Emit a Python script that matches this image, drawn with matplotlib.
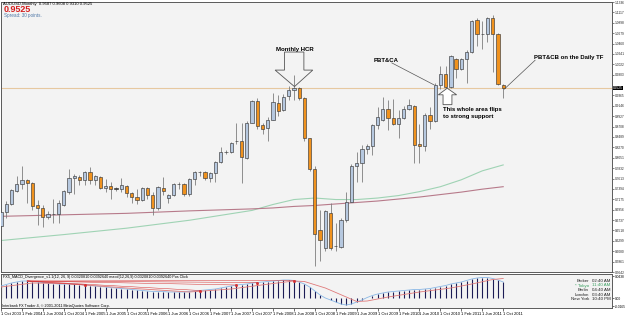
import numpy as np
import matplotlib.pyplot as plt
from matplotlib.patches import Polygon
import matplotlib.transforms as mtransforms

plt.rcParams['font.family'] = ['Liberation Sans', 'DejaVu Sans']

# AUDUSD monthly candles, Oct 2003 .. Oct 2011
opens = [0.6602, 0.6900, 0.7073, 0.7352, 0.7489, 0.7587, 0.7525, 0.7052, 0.6998, 0.6795,
         0.6864, 0.6864, 0.7052, 0.7331, 0.7623, 0.7643, 0.7587, 0.7748, 0.7573, 0.7643,
         0.7414, 0.7448, 0.7400, 0.7385, 0.7456, 0.7310, 0.7227, 0.7156, 0.7421, 0.7275,
         0.6983, 0.7421, 0.7212, 0.7260, 0.7504, 0.7489, 0.7281, 0.7608, 0.7748, 0.7748,
         0.7623, 0.7733, 0.7956, 0.8164, 0.8164, 0.8406, 0.8406, 0.8039, 0.8789, 0.9239,
         0.8748, 0.8685, 0.8858, 0.9206, 0.9052, 0.9358, 0.9483, 0.9518, 0.9310, 0.8462,
         0.7816, 0.6531, 0.6150, 0.6879, 0.6185, 0.6164, 0.6739, 0.7123, 0.7885, 0.7931,
         0.8233, 0.8302, 0.8733, 0.8843, 0.9081, 0.8893, 0.8768, 0.8893, 0.9081, 0.9150,
         0.8337, 0.8302, 0.8962, 0.8823, 0.9581, 0.9816, 0.9539, 1.0143, 0.9914, 1.0143,
         1.0281, 1.0956, 1.0664, 1.0664, 1.0998, 1.0664, 0.9587]
highs = [0.6983, 0.7129, 0.7400, 0.7677, 0.7885, 0.7608, 0.7546, 0.7156, 0.7052, 0.6920,
         0.7191, 0.7156, 0.7379, 0.7816, 0.7712, 0.7681, 0.7781, 0.7852, 0.7691, 0.7677,
         0.7608, 0.7539, 0.7441, 0.7623, 0.7468, 0.7331, 0.7400, 0.7435, 0.7435, 0.7331,
         0.7452, 0.7643, 0.7296, 0.7525, 0.7539, 0.7514, 0.7623, 0.7781, 0.7781, 0.7781,
         0.7748, 0.7989, 0.8268, 0.8212, 0.8385, 0.8775, 0.8789, 0.8816, 0.9275, 0.9310,
         0.8789, 0.8914, 0.9414, 0.9379, 0.9400, 0.9573, 0.9796, 0.9552, 0.9343, 0.8477,
         0.7885, 0.6948, 0.6948, 0.7087, 0.6671, 0.6775, 0.7331, 0.7920, 0.8164, 0.8316,
         0.8337, 0.8754, 0.9123, 0.9331, 0.9275, 0.9289, 0.9066, 0.9135, 0.9289, 0.9171,
         0.8754, 0.8998, 0.9123, 0.9623, 0.9983, 0.9983, 1.0212, 1.0164, 1.0164, 1.0316,
         1.0956, 1.0998, 1.0927, 1.1025, 1.1066, 1.0677, 0.9608]
lows = [0.6566, 0.6775, 0.7046, 0.7337, 0.7400, 0.7087, 0.6948, 0.6629, 0.6587, 0.6754,
        0.6671, 0.6671, 0.7035, 0.7296, 0.7296, 0.7483, 0.7468, 0.7504, 0.7468, 0.7385,
        0.7331, 0.7191, 0.7358, 0.7331, 0.7227, 0.7087, 0.7066, 0.7129, 0.7191, 0.6843,
        0.6948, 0.7260, 0.7087, 0.7248, 0.7400, 0.7254, 0.7248, 0.7468, 0.7677, 0.7573,
        0.7539, 0.7539, 0.7941, 0.8129, 0.8150, 0.8337, 0.7525, 0.8025, 0.8775, 0.8650,
        0.8546, 0.8406, 0.8843, 0.8927, 0.9031, 0.9275, 0.9275, 0.9275, 0.8406, 0.7781,
        0.5775, 0.5873, 0.6081, 0.6114, 0.6081, 0.6150, 0.6706, 0.7108, 0.7539, 0.7546,
        0.8129, 0.8108, 0.8650, 0.8823, 0.8635, 0.8733, 0.8477, 0.8879, 0.9066, 0.7941,
        0.7941, 0.8198, 0.8650, 0.8810, 0.9498, 0.9518, 0.9518, 0.9727, 0.9900, 0.9635,
        1.0260, 1.0400, 1.0352, 1.0489, 0.9864, 0.9587, 0.9310]
closes = [0.6914, 0.7073, 0.7364, 0.7489, 0.7587, 0.7518, 0.7031, 0.6983, 0.6810, 0.6858,
          0.6864, 0.7102, 0.7343, 0.7623, 0.7677, 0.7587, 0.7748, 0.7573, 0.7677, 0.7414,
          0.7448, 0.7400, 0.7400, 0.7468, 0.7316, 0.7227, 0.7156, 0.7421, 0.7260, 0.6983,
          0.7435, 0.7352, 0.7275, 0.7504, 0.7504, 0.7285, 0.7608, 0.7748, 0.7748, 0.7623,
          0.7733, 0.7956, 0.8177, 0.8164, 0.8358, 0.8406, 0.8060, 0.8789, 0.9239, 0.8718,
          0.8664, 0.8858, 0.9227, 0.9031, 0.9343, 0.9483, 0.9518, 0.9310, 0.8462, 0.7816,
          0.6441, 0.6323, 0.6935, 0.6150, 0.6185, 0.6739, 0.7123, 0.7885, 0.7941, 0.8233,
          0.8302, 0.8733, 0.8914, 0.9081, 0.8893, 0.8768, 0.8893, 0.9081, 0.9164, 0.8323,
          0.8302, 0.8962, 0.8823, 0.9581, 0.9816, 0.9539, 1.0191, 0.9914, 1.0143, 1.0281,
          1.0941, 1.0664, 1.0664, 1.0998, 1.0664, 0.9608, 0.9525]

# two moving averages, read at a few candles
ma_idx = [0, 12, 24, 36, 48, 52, 56, 60, 64, 68, 72, 76, 80, 84, 88, 92, 96]
ma_green = [0.6306, 0.6431, 0.6566, 0.6733, 0.6941, 0.7066, 0.7170, 0.7202, 0.7170, 0.7170,
            0.7202, 0.7254, 0.7337, 0.7441, 0.7587, 0.7775, 0.7900]
ma_red = [0.6816, 0.6848, 0.6879, 0.6931, 0.6973, 0.6993, 0.7025, 0.7045, 0.7077, 0.7108,
          0.7139, 0.7181, 0.7223, 0.7275, 0.7327, 0.7389, 0.7441]

# MACD histogram, one value per candle
macd = [0.024, 0.027, 0.030, 0.032, 0.034, 0.034, 0.033, 0.032, 0.031, 0.030,
        0.029, 0.028, 0.028, 0.028, 0.028, 0.027, 0.026, 0.025, 0.024, 0.023,
        0.022, 0.021, 0.020, 0.019, 0.018, 0.017, 0.016, 0.015, 0.014, 0.013,
        0.013, 0.013, 0.012, 0.012, 0.012, 0.012, 0.013, 0.014, 0.015, 0.016,
        0.017, 0.018, 0.020, 0.022, 0.024, 0.026, 0.027, 0.028, 0.030, 0.031,
        0.032, 0.033, 0.034, 0.035, 0.036, 0.036, 0.035, 0.032, 0.028, 0.022,
        0.014, 0.006, 0.000, -0.004, -0.008, -0.012, -0.014, -0.012, -0.008, -0.004,
        0.001, 0.005, 0.008, 0.010, 0.012, 0.013, 0.014, 0.015, 0.016, 0.017,
        0.017, 0.018, 0.019, 0.021, 0.023, 0.025, 0.028, 0.030, 0.032, 0.035,
        0.038, 0.040, 0.041, 0.041, 0.039, 0.036, 0.032]
sig_idx = [0, 6, 12, 24, 36, 44, 52, 56, 58, 62, 66, 68, 70, 74, 80, 86, 90, 94, 96]
sig_val = [0.022, 0.030, 0.029, 0.020, 0.012, 0.018, 0.029, 0.034, 0.033, 0.020,
           0.002, -0.007, -0.006, 0.002, 0.012, 0.020, 0.028, 0.037, 0.039]
div_from = 5
div_to = [16, 38, 45, 49, 56]

date_labels = ['1 Oct 2003', '1 Feb 2004', '1 Jun 2004', '1 Oct 2004', '1 Feb 2005',
               '1 Jun 2005', '1 Oct 2005', '1 Feb 2006', '1 Jun 2006', '1 Oct 2006',
               '1 Feb 2007', '1 Jun 2007', '1 Oct 2007', '1 Feb 2008', '1 Jun 2008',
               '1 Oct 2008', '1 Feb 2009', '1 Jun 2009', '1 Oct 2009', '1 Feb 2010',
               '1 Jun 2010', '1 Oct 2010', '1 Feb 2011', '1 Jun 2011', '1 Oct 2011']
bid = 0.9525
price_ticks = [round(1.1336 - k * 0.0219, 4) for k in range(27)]
price_ticks = [t for t in price_ticks if abs(t - bid) > 0.008]

clock_names = ['Broker', '* Tokyo', 'Berlin', 'London', 'New York']
clock_times = ['02:40 AM', '11:40 AM', '04:40 AM', '03:40 AM', '10:40 PM']

BG = '#f3f3f3'
UP = '#b6c8df'
DOWN = '#f0921e'
W, H = 625, 315


def px(x, y):
    return x / W, 1 - y / H


fig = plt.figure(figsize=(6.25, 3.15), dpi=100, facecolor='white')
ax = fig.add_axes([1 / W, (H - 272) / H, 611 / W, 270 / H], facecolor=BG)
mx = fig.add_axes([1 / W, (H - 308) / H, 611 / W, 34 / H], facecolor=BG)

idx = np.arange(len(opens))
o = np.array(opens); c = np.array(closes)
hi = np.array(highs); lo = np.array(lows)

# candles
ax.vlines(idx, lo, hi, color='#7d7d7d', lw=0.6, zorder=2)
colors = np.where(c > o, UP, np.where(c < o, DOWN, '#222222'))
body = np.where(np.abs(c - o) < 1e-6, 0.0004, c - o)
ax.bar(idx, body, bottom=o, width=0.62, color=colors, edgecolor='#3a3a3a',
       linewidth=0.45, zorder=3)

ax.plot(ma_idx, ma_green, color='#9fd3b4', lw=0.8, zorder=1)
ax.plot(ma_idx, ma_red, color='#b77a8a', lw=0.8, zorder=1)
ax.axhline(bid, color='#e6c8a0', lw=0.8, zorder=1)

ax.set_xlim(0, 116.8)
ax.set_ylim(0.5691, 1.1316)
ax.yaxis.tick_right()
ax.set_yticks(price_ticks)
ax.set_yticklabels([f'{t:.4f}' for t in price_ticks])
ax.tick_params(axis='y', labelsize=2.3, length=1.5, width=0.4, pad=0.5, colors='#222222')
ax.set_xticks([])
for s in ax.spines.values():
    s.set_color('#5a5a5a'); s.set_linewidth(0.7)

trans = mtransforms.blended_transform_factory(ax.transAxes, ax.transData)
ax.text(1.002, bid, f'{bid:.4f}', transform=trans, fontsize=2.3, color='white',
        va='center', ha='left', bbox=dict(boxstyle='square,pad=0.1', fc='black', ec='none'),
        clip_on=False)

# annotations
arrow_dn = Polygon([(54.2, 1.0281), (57.9, 1.0281), (57.9, 0.9900), (59.6, 0.9900),
                    (56.1, 0.9552), (52.4, 0.9900), (54.2, 0.9900)],
                   closed=True, fc='none', ec='#555555', lw=0.6, zorder=5)
ax.add_patch(arrow_dn)
ax.text(56.1, 1.0340, 'Monthly HCR', fontsize=4.3, fontweight='bold', ha='center', va='center', zorder=6)

arrow_up = Polygon([(84.5, 0.9171), (86.2, 0.9171), (86.2, 0.9379), (87.1, 0.9379),
                    (85.3, 0.9518), (83.6, 0.9379), (84.5, 0.9379)],
                   closed=True, fc='white', ec='#555555', lw=0.6, zorder=5)
ax.add_patch(arrow_up)
ax.text(84.4, 0.9066, 'This whole area flips', fontsize=4.3, fontweight='bold', ha='left', va='center')
ax.text(84.4, 0.8914, 'to strong support', fontsize=4.3, fontweight='bold', ha='left', va='center')

ax.text(73.6, 1.0108, 'PBT&CA', fontsize=4.3, fontweight='bold', ha='center', va='center')
ax.plot([74.7, 82.8], [1.0052, 0.9587], color='#555555', lw=0.5)
ax.text(101.9, 1.0171, 'PBT&CB on the Daily TF', fontsize=4.3, fontweight='bold', ha='left', va='center')
ax.plot([102.1, 96.2], [1.0108, 0.9498], color='#555555', lw=0.5)

# header
fig.text(*px(3, 3.5), f'AUDUSD,Monthly  {opens[-1]:.4f} {highs[-1]:.4f} {lows[-1]:.4f} {closes[-1]:.4f}',
         fontsize=3, va='center')
fig.text(*px(4, 9.5), f'{bid:.4f}', fontsize=6.5, fontweight='bold', color='#d42020', va='center')
fig.text(*px(4, 15), 'Spread: 30 points.', fontsize=3.3, color='#4f78a8', va='center')

# MACD panel
mx.vlines(idx, 0, macd, color='#1c1c55', lw=0.8, zorder=2)
mx.plot(idx, macd, color='#8ab8e6', lw=0.6, zorder=3)
mx.plot(sig_idx, sig_val, color='#e07a7a', lw=0.6, zorder=3)
for t in div_to:
    mx.plot([div_from, t], [macd[div_from], macd[t]], color='#d83030', lw=0.35, zorder=4)
    mx.plot(t, macd[t], marker='s', ms=1.0, color='#d83030', zorder=5)
mx.set_xlim(0, 116.8)
mx.set_ylim(-0.020, 0.048)
mx.yaxis.tick_right()
mx.set_yticks([0.0438, 0.0, -0.0165])
mx.set_yticklabels(['0.0438', '0.00', '-0.0165'])
mx.tick_params(axis='y', labelsize=2.3, length=1.5, width=0.4, pad=0.5)
mx.set_xticks(idx[::4])
mx.set_xticklabels(date_labels, ha='left')
mx.tick_params(axis='x', labelsize=3, length=2, width=0.4, pad=0.8)
for s in mx.spines.values():
    s.set_color('#5a5a5a'); s.set_linewidth(0.7)

fig.text(*px(3, 277), 'FX5_MACD_Divergence_v1.1(12, 26, 9) 0.0320810 0.0392640 macd(12,26,9) '
         '0.0320810 0.0392640 Pos Click', fontsize=2.7, va='center')
fig.text(*px(2, 305.5), 'Interbank FX Trader 4, \u00a9 2001-2011 MetaQuotes Software Corp.',
         fontsize=2.7, va='center')

for k, (n, t) in enumerate(zip(clock_names, clock_times)):
    yy = 281 + k * 4.5
    col = '#3aa060' if k == 1 else '#222222'
    fig.text(*px(589, yy), n, fontsize=3.2, ha='right', va='center', color=col)
    fig.text(*px(592, yy), t, fontsize=3.2, ha='left', va='center', color=col)

fig.savefig('out.png', dpi=100, facecolor='white')
